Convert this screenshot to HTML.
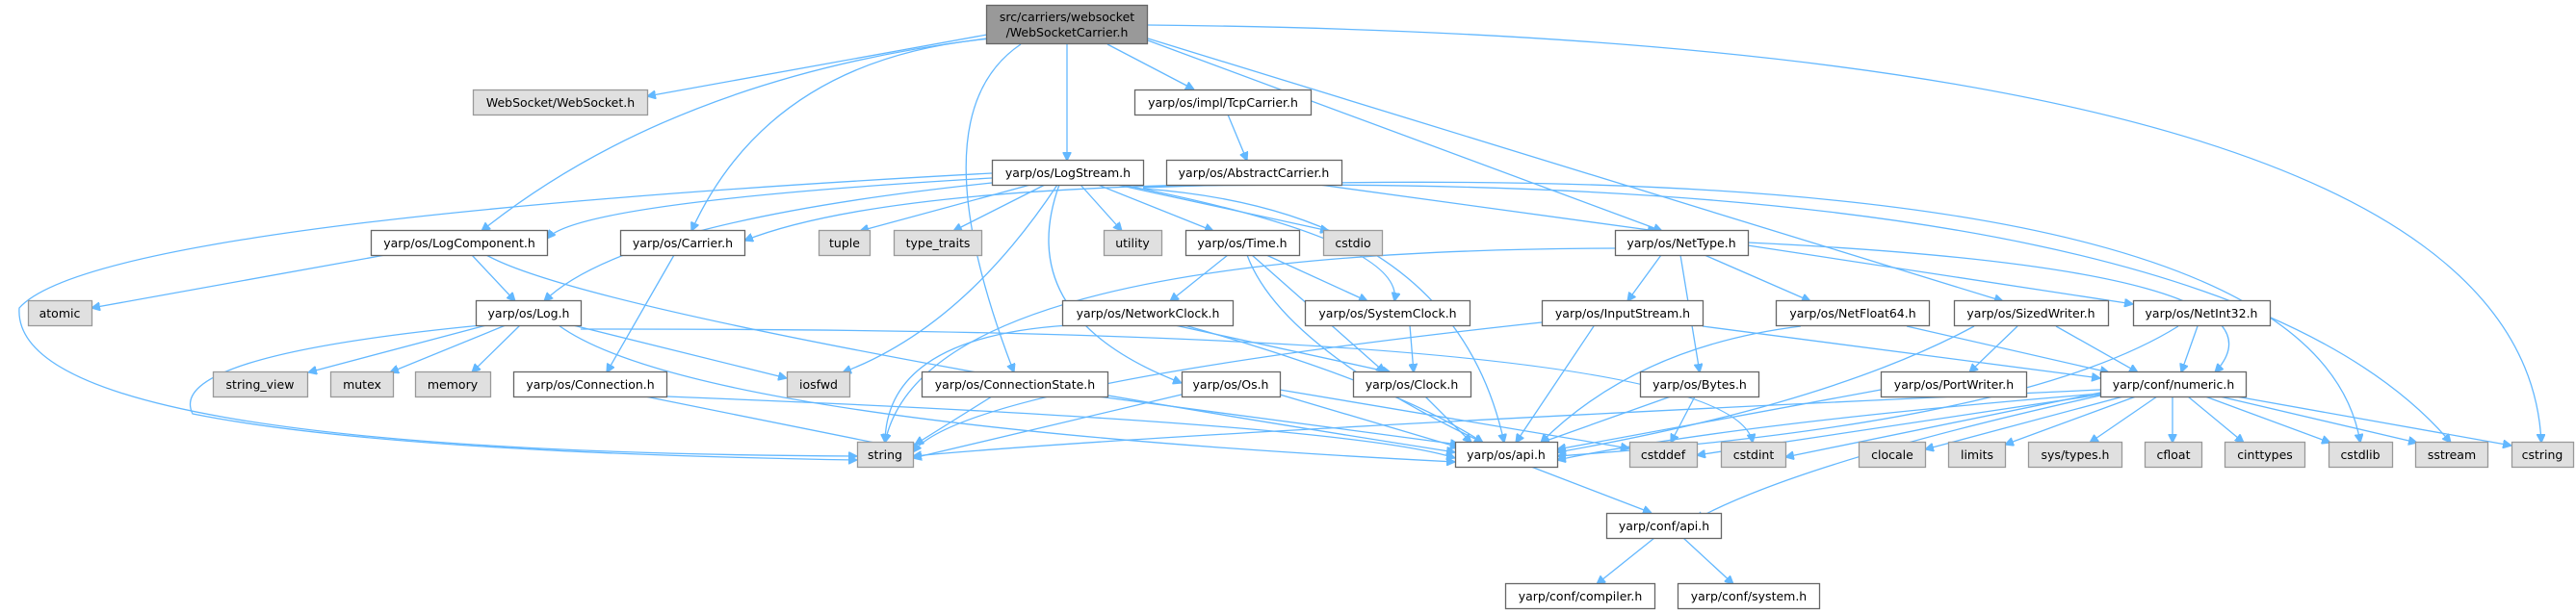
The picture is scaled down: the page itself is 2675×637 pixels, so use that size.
<!DOCTYPE html>
<html><head><meta charset="utf-8"><style>
html,body{margin:0;padding:0;background:#fff;width:2675px;height:637px;overflow:hidden}
svg{display:block}
text{font-family:"DejaVu Sans","Liberation Sans",sans-serif;font-size:12.5px;fill:#000;text-anchor:middle}
.n{fill:#fff;stroke:#666;stroke-width:1.3}
.g{fill:#e0e0e0;stroke:#999;stroke-width:1.3}
.m{fill:#999;stroke:#666;stroke-width:1.3}
path{fill:none;stroke:#63b8ff;stroke-width:1.3;marker-end:url(#a)}
</style></head><body>
<svg width="2675" height="637" viewBox="0 0 2675 637" xmlns="http://www.w3.org/2000/svg">
<defs><marker id="a" viewBox="0 0 10 10" refX="10" refY="5" markerWidth="9" markerHeight="9" markerUnits="userSpaceOnUse" orient="auto"><path d="M0,0 L10,5 L0,10 z" style="fill:#63b8ff;stroke:#63b8ff;marker-end:none"/></marker></defs>

<!-- edges -->
<path d="M1025,36 L672,100"/>
<path d="M1025,40 Q700,80 500,240"/>
<path d="M1030,40 Q800,60 718,240"/>
<path d="M1060,46 Q950,120 1053,387"/>
<path d="M1108,46 L1108,167"/>
<path d="M1150,46 L1240,93"/>
<path d="M1192,42 L1726,240"/>
<path d="M1192,40 L2080,313"/>
<path d="M1192,26 Q2620,40 2639,460"/>
<path d="M1275,119 L1295,167"/>
<path d="M1240,192 Q900,200 773,250"/>
<path d="M1370,192 L1720,240"/>
<path d="M1030,185 Q600,210 568,248"/>
<path d="M1030,190 Q650,230 565,313"/>
<path d="M1030,180 Q100,230 20,320 Q10,470 890,474"/>
<path d="M1070,192 L893,240"/>
<path d="M1085,192 L990,240"/>
<path d="M1122,192 L1165,240"/>
<path d="M1140,192 L1260,240"/>
<path d="M1160,192 L1380,240"/>
<path d="M1165,192 Q1460,250 1448,313"/>
<path d="M1100,192 Q1050,330 1227,398"/>
<path d="M1098,192 Q1000,340 875,387"/>
<path d="M1187,196 Q1510,220 1562,460"/>
<path d="M1187,195 Q2400,150 2451,460"/>
<path d="M1187,194 Q2300,170 2545,460"/>
<path d="M400,265 L95,320"/>
<path d="M490,265 L535,313"/>
<path d="M505,265 Q620,330 1511,470"/>
<path d="M700,265 L630,387"/>
<path d="M505,338 L320,387"/>
<path d="M525,338 L405,387"/>
<path d="M540,338 L490,387"/>
<path d="M595,338 L817,393"/>
<path d="M603,342 Q1800,340 1820,460"/>
<path d="M580,338 Q720,440 1511,480"/>
<path d="M500,338 Q170,370 200,430 Q400,470 890,478"/>
<path d="M692,412 Q1400,440 1511,476"/>
<path d="M670,412 L948,468"/>
<path d="M1275,265 L1215,313"/>
<path d="M1300,265 L1438,387"/>
<path d="M1315,265 L1420,313"/>
<path d="M1295,265 Q1330,360 1540,460"/>
<path d="M1110,338 Q920,350 919,460"/>
<path d="M1220,338 L1444,387"/>
<path d="M1230,338 Q1450,400 1540,460"/>
<path d="M1464,338 L1468,387"/>
<path d="M1480,412 L1528,460"/>
<path d="M1030,412 L950,462"/>
<path d="M1140,412 L1515,462"/>
<path d="M1227,410 L948,476"/>
<path d="M1329,410 L1515,465"/>
<path d="M1329,405 L1692,466"/>
<path d="M1677,258 Q960,260 919,460"/>
<path d="M1725,265 L1690,313"/>
<path d="M1745,265 L1765,387"/>
<path d="M1770,265 L1880,313"/>
<path d="M1815,255 L2215,316"/>
<path d="M1815,252 Q2400,280 2300,387"/>
<path d="M1601,335 Q1000,400 948,470"/>
<path d="M1655,339 L1574,460"/>
<path d="M1768,339 L2181,393"/>
<path d="M1735,412 L1600,460"/>
<path d="M1760,412 L1735,460"/>
<path d="M1870,339 Q1700,360 1600,460"/>
<path d="M1980,339 L2190,387"/>
<path d="M2050,339 Q1900,420 1617,470"/>
<path d="M2095,339 L2045,387"/>
<path d="M2135,339 L2220,387"/>
<path d="M2262,339 Q2100,440 1617,474"/>
<path d="M2282,339 L2265,387"/>
<path d="M1953,405 L1617,467"/>
<path d="M2181,405 Q1200,450 948,474"/>
<path d="M2181,408 L1854,475"/>
<path d="M2181,410 L1762,473"/>
<path d="M2181,409 Q1800,440 1617,478"/>
<path d="M2181,411 Q1870,480 1760,540"/>
<path d="M2205,412 L1999,467"/>
<path d="M2218,412 L2082,462"/>
<path d="M2240,412 L2170,460"/>
<path d="M2256,412 L2256,460"/>
<path d="M2272,412 L2330,460"/>
<path d="M2290,412 L2420,460"/>
<path d="M2305,412 L2510,460"/>
<path d="M2322,412 L2608,463"/>
<path d="M1590,485 L1715,533"/>
<path d="M1718,559 L1658,607"/>
<path d="M1748,559 L1800,607"/>

<!-- nodes -->
<rect class="m" x="1024.5" y="5.5" width="167" height="40"/><text x="1108" y="22">src/carriers/websocket</text><text x="1108" y="38">/WebSocketCarrier.h</text>
<rect class="g" x="491.5" y="93.5" width="181" height="26"/><text x="582" y="111">WebSocket/WebSocket.h</text>
<rect class="n" x="1178.5" y="93.5" width="183" height="26"/><text x="1270" y="111">yarp/os/impl/TcpCarrier.h</text>
<rect class="n" x="1030.5" y="166.5" width="157" height="26"/><text x="1109" y="184">yarp/os/LogStream.h</text>
<rect class="n" x="1211.5" y="166.5" width="182" height="26"/><text x="1302" y="184">yarp/os/AbstractCarrier.h</text>
<rect class="n" x="385.5" y="239.5" width="183" height="26"/><text x="477" y="257">yarp/os/LogComponent.h</text>
<rect class="n" x="644.5" y="239.5" width="129" height="26"/><text x="709" y="257">yarp/os/Carrier.h</text>
<rect class="g" x="850.5" y="239.5" width="53" height="26"/><text x="877" y="257">tuple</text>
<rect class="g" x="928.5" y="239.5" width="91" height="26"/><text x="974" y="257">type_traits</text>
<rect class="g" x="1146.5" y="239.5" width="60" height="26"/><text x="1176" y="257">utility</text>
<rect class="n" x="1231.5" y="239.5" width="118" height="26"/><text x="1290" y="257">yarp/os/Time.h</text>
<rect class="g" x="1374.5" y="239.5" width="61" height="26"/><text x="1405" y="257">cstdio</text>
<rect class="n" x="1677.5" y="239.5" width="138" height="26"/><text x="1746" y="257">yarp/os/NetType.h</text>
<rect class="g" x="29.5" y="312.5" width="66" height="26"/><text x="62" y="330">atomic</text>
<rect class="n" x="494.5" y="312.5" width="109" height="26"/><text x="549" y="330">yarp/os/Log.h</text>
<rect class="n" x="1103.5" y="312.5" width="177" height="26"/><text x="1192" y="330">yarp/os/NetworkClock.h</text>
<rect class="n" x="1355.5" y="312.5" width="171" height="26"/><text x="1441" y="330">yarp/os/SystemClock.h</text>
<rect class="n" x="1601.5" y="312.5" width="167" height="26"/><text x="1685" y="330">yarp/os/InputStream.h</text>
<rect class="n" x="1844.5" y="312.5" width="159" height="26"/><text x="1924" y="330">yarp/os/NetFloat64.h</text>
<rect class="n" x="2029.5" y="312.5" width="160" height="26"/><text x="2109" y="330">yarp/os/SizedWriter.h</text>
<rect class="n" x="2215.5" y="312.5" width="142" height="26"/><text x="2286" y="330">yarp/os/NetInt32.h</text>
<rect class="g" x="221.5" y="386.5" width="98" height="26"/><text x="270" y="404">string_view</text>
<rect class="g" x="343.5" y="386.5" width="65" height="26"/><text x="376" y="404">mutex</text>
<rect class="g" x="431.5" y="386.5" width="78" height="26"/><text x="470" y="404">memory</text>
<rect class="n" x="533.5" y="386.5" width="159" height="26"/><text x="613" y="404">yarp/os/Connection.h</text>
<rect class="g" x="817.5" y="386.5" width="65" height="26"/><text x="850" y="404">iosfwd</text>
<rect class="n" x="957.5" y="386.5" width="193" height="26"/><text x="1054" y="404">yarp/os/ConnectionState.h</text>
<rect class="n" x="1227.5" y="386.5" width="102" height="26"/><text x="1278" y="404">yarp/os/Os.h</text>
<rect class="n" x="1405.5" y="386.5" width="122" height="26"/><text x="1466" y="404">yarp/os/Clock.h</text>
<rect class="n" x="1703.5" y="386.5" width="123" height="26"/><text x="1765" y="404">yarp/os/Bytes.h</text>
<rect class="n" x="1953.5" y="386.5" width="151" height="26"/><text x="2029" y="404">yarp/os/PortWriter.h</text>
<rect class="n" x="2181.5" y="386.5" width="151" height="26"/><text x="2257" y="404">yarp/conf/numeric.h</text>
<rect class="g" x="890.5" y="459.5" width="58" height="26"/><text x="919" y="477">string</text>
<rect class="n" x="1511.5" y="459.5" width="106" height="26"/><text x="1564" y="477">yarp/os/api.h</text>
<rect class="g" x="1692.5" y="459.5" width="70" height="26"/><text x="1727" y="477">cstddef</text>
<rect class="g" x="1787.5" y="459.5" width="67" height="26"/><text x="1821" y="477">cstdint</text>
<rect class="g" x="1930.5" y="459.5" width="69" height="26"/><text x="1965" y="477">clocale</text>
<rect class="g" x="2023.5" y="459.5" width="59" height="26"/><text x="2053" y="477">limits</text>
<rect class="g" x="2106.5" y="459.5" width="97" height="26"/><text x="2155" y="477">sys/types.h</text>
<rect class="g" x="2227.5" y="459.5" width="59" height="26"/><text x="2257" y="477">cfloat</text>
<rect class="g" x="2310.5" y="459.5" width="83" height="26"/><text x="2352" y="477">cinttypes</text>
<rect class="g" x="2418.5" y="459.5" width="66" height="26"/><text x="2451" y="477">cstdlib</text>
<rect class="g" x="2508.5" y="459.5" width="75" height="26"/><text x="2546" y="477">sstream</text>
<rect class="g" x="2608.5" y="459.5" width="64" height="26"/><text x="2640" y="477">cstring</text>
<rect class="n" x="1668.5" y="533.5" width="119" height="26"/><text x="1728" y="551">yarp/conf/api.h</text>
<rect class="n" x="1563.5" y="606.5" width="155" height="26"/><text x="1641" y="624">yarp/conf/compiler.h</text>
<rect class="n" x="1742.5" y="606.5" width="147" height="26"/><text x="1816" y="624">yarp/conf/system.h</text>
</svg>
</body></html>
